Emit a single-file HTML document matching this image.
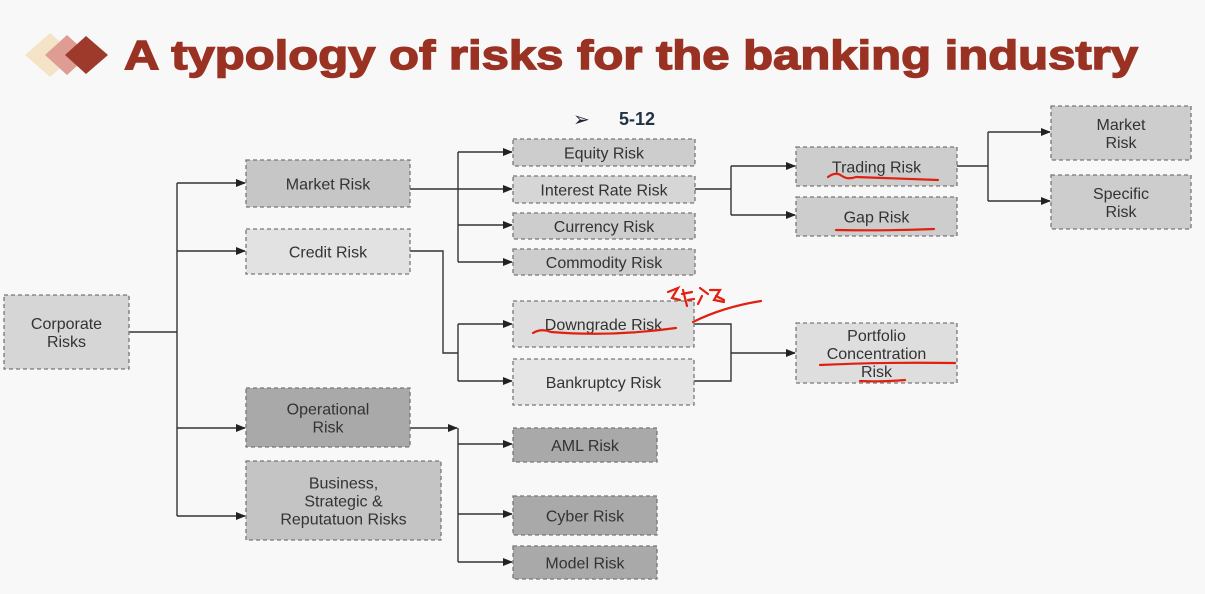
<!DOCTYPE html>
<html><head><meta charset="utf-8"><style>
html,body{margin:0;padding:0;background:#f7f7f7;}
svg{display:block;font-family:"Liberation Sans","Noto Sans CJK SC",sans-serif;}
</style></head><body>
<svg id="d" width="1205" height="594" viewBox="0 0 1205 594">
<defs><marker id="ah" markerWidth="10" markerHeight="8" refX="9" refY="4" orient="auto" markerUnits="userSpaceOnUse"><path d="M0,0 L10,4 L0,8 z" fill="#222"/></marker></defs>
<rect x="0" y="0" width="1205" height="594" fill="#f8f8f8"/>
<g>
<polygon points="25,55 50,33 75,55 50,77" fill="#f5e3c8"/>
<polygon points="45,55 67,35 89,55 67,75" fill="#df9c92"/>
<polygon points="65,55 86,36 108,55 86,74" fill="#9d3a2c"/>
</g>
<text x="124" y="69" font-size="41" font-weight="bold" fill="#9a3224" stroke="#9a3224" stroke-width="1.4" textLength="1014" lengthAdjust="spacingAndGlyphs">A typology of risks for the banking industry</text>
<text x="573" y="126" font-size="20" fill="#223">➢</text>
<text x="619" y="125" font-size="18" font-weight="bold" fill="#223344">5-12</text>
<g id="lines" stroke="#333" stroke-width="1.4" fill="none"></g>
<g id="boxes"></g>
<g stroke="#e02010" stroke-width="2.2" fill="none" stroke-linecap="round">
<path d="M828,177 q8,-6 14,-1 q6,4 14,1 q30,1 82,3"/>
<path d="M836,230 q50,1 98,-1"/>
<path d="M533,333 q8,-5 18,-1 q60,5 125,-4"/>
<path d="M820,365 q60,-3 135,-2"/>
<path d="M860,381 q22,1 45,-1"/>
<path d="M668,292 l10,-4 l-6,10 l8,2 M683,290 l4,16 M682,294 l10,-2 M688,300 l6,-1 M700,288 l8,6 M702,296 l-4,8 M710,290 l10,0 l-6,10 l10,2 M716,296 l8,4"/>
<path d="M693,322 q30,-15 68,-21"/>
</g>
</svg>
<script>
const boxLabels=["Corporate|Risks","Market Risk","Credit Risk","Operational|Risk","Business,|Strategic &|Reputatuon Risks","Equity Risk","Interest Rate Risk","Currency Risk","Commodity Risk","Downgrade Risk","Bankruptcy Risk","AML Risk","Cyber Risk","Model Risk","Trading Risk","Gap Risk","Portfolio|Concentration|Risk","Market|Risk","Specific|Risk"];
const boxNames=["corporate-risks","market-risk","credit-risk","operational-risk","business-strategic-reputation-risks","equity-risk","interest-rate-risk","currency-risk","commodity-risk","downgrade-risk","bankruptcy-risk","aml-risk","cyber-risk","model-risk","trading-risk","gap-risk","portfolio-concentration-risk","trading-market-risk","specific-risk"];
const B=[[4,295,125,74,"#d6d6d6"],[246,160,164,47,"#c6c6c6"],[246,229,164,45,"#e2e2e2"],[246,388,164,59,"#a9a9a9"],[246,461,195,79,"#c4c4c4"],
[513,139,182,27,"#cdcdcd"],[513,176,182,27,"#d6d6d6"],[513,213,182,26,"#cdcdcd"],[513,249,182,26,"#cdcdcd"],[513,301,181,46,"#dedede"],[513,359,181,46,"#e5e5e5"],
[513,428,144,34,"#a9a9a9"],[513,496,144,39,"#a9a9a9"],[513,546,144,33,"#a9a9a9"],[796,147,161,39,"#cdcdcd"],[796,197,161,39,"#cdcdcd"],[796,323,161,60,"#dedede"],[1051,106,140,54,"#cdcdcd"],[1051,175,140,54,"#cdcdcd"]];
const NS="http://www.w3.org/2000/svg";
const bg=document.getElementById('boxes');
B.forEach((b,i)=>{
 const g=document.createElementNS(NS,'g');
 
 
 const r=document.createElementNS(NS,'rect');
 r.setAttribute('x',b[0]);r.setAttribute('y',b[1]);r.setAttribute('width',b[2]);r.setAttribute('height',b[3]);
 r.setAttribute('fill',b[4]);r.setAttribute('stroke','#777');r.setAttribute('stroke-width','1.3');r.setAttribute('stroke-dasharray','4,3');
 g.appendChild(r);
 const ls=boxLabels[i].split('|');const lh=18;
 const cy=b[1]+b[3]/2-(ls.length-1)*lh/2+6;
 ls.forEach((t,k)=>{const tx=document.createElementNS(NS,'text');
  tx.setAttribute('x',b[0]+b[2]/2);tx.setAttribute('y',cy+k*lh);tx.setAttribute('text-anchor','middle');
  tx.setAttribute('font-size','16');tx.setAttribute('fill','#333');tx.textContent=t;g.appendChild(tx);});
 bg.appendChild(g);
});
const plain=["M129,332 H177","M177,183 V516","M410,189 H458","M458,152 V262","M410,251 H443 V353 H458","M458,324 V381","M458,428 V562","M695,189 H731","M731,166 V215","M957,166 H988","M988,132 V201","M694,324 H731 V381 H694"];
const arrows=["M177,183 H245","M177,251 H245","M177,428 H245","M177,516 H245","M458,152 H512","M458,189 H512","M458,225 H512","M458,262 H512","M458,324 H512","M458,381 H512","M410,428 H457","M458,444 H512","M458,514 H512","M458,562 H512","M731,166 H795","M731,215 H795","M731,353 H795","M988,132 H1050","M988,201 H1050"];
const lg=document.getElementById('lines');
plain.concat(arrows).forEach((d,i)=>{const p=document.createElementNS(NS,'path');p.setAttribute('d',d);
 if(i>=plain.length)p.setAttribute('marker-end','url(#ah)');
 
 
 lg.appendChild(p);});
</script>
</body></html>
